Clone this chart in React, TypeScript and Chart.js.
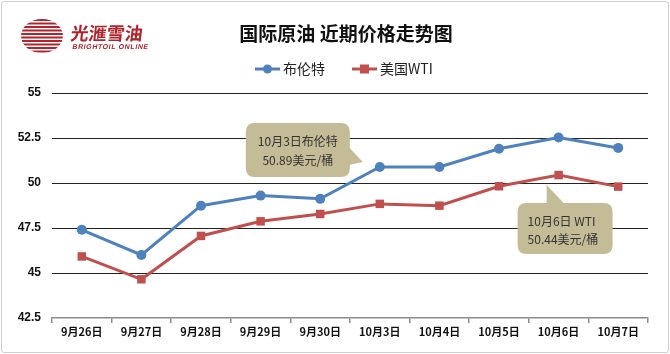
import React, { useEffect, useRef } from "react";
import { Chart, registerables } from "chart.js";
Chart.register(...registerables);

const categories = ["9月26日", "9月27日", "9月28日", "9月29日", "9月30日", "10月3日", "10月4日", "10月5日", "10月6日", "10月7日"];
const brent = [47.4, 46.0, 48.74, 49.3, 49.12, 50.89, 50.89, 51.9, 52.53, 51.95];
const wti = [45.92, 44.65, 47.06, 47.87, 48.28, 48.84, 48.74, 49.82, 50.44, 49.8];
const seriesNames = ["布伦特", "美国WTI"];
const yMin = 42.5;
const yMax = 55;
const yStep = 2.5;
const titleText = "国际原油 近期价格走势图";
const logoCn = "光滙雪油";
const logoEn = "BRIGHTOIL ONLINE";
const callouts = [
  { series: 0, index: 5, lines: ["10月3日布伦特", "50.89美元/桶"] },
  { series: 1, index: 8, lines: ["10月6日 WTI", "50.44美元/桶"] },
];

const BLUE = "#4F81BD";
const RED = "#C0504D";
const FONT = '"Noto Sans CJK SC", "Noto Sans", sans-serif';

function roundRect(ctx: CanvasRenderingContext2D, x: number, y: number, w: number, h: number, r: number) {
  ctx.beginPath();
  ctx.moveTo(x + r, y);
  ctx.lineTo(x + w - r, y);
  ctx.quadraticCurveTo(x + w, y, x + w, y + r);
  ctx.lineTo(x + w, y + h - r);
  ctx.quadraticCurveTo(x + w, y + h, x + w - r, y + h);
  ctx.lineTo(x + r, y + h);
  ctx.quadraticCurveTo(x, y + h, x, y + h - r);
  ctx.lineTo(x, y + r);
  ctx.quadraticCurveTo(x, y, x + r, y);
  ctx.closePath();
}

const decorPlugin = {
  id: "decor",
  afterDraw(chart: any) {
    const ctx: CanvasRenderingContext2D = chart.ctx;
    ctx.save();
    // Logo sphere
    const cx = 42, cy = 36, rx = 21, ry = 17;
    ctx.save();
    ctx.beginPath();
    ctx.ellipse(cx, cy, rx, ry, 0, 0, Math.PI * 2);
    ctx.clip();
    ctx.fillStyle = "#B0242C";
    for (let i = 0; i < 10; i++) {
      const y = cy - ry + i * 3.5;
      ctx.fillRect(cx - rx, y, rx * 2, 2);
    }
    ctx.restore();
    ctx.fillStyle = "#B0242C";
    ctx.save();
    ctx.translate(70, 40);
    ctx.transform(1, 0, -0.12, 1, 0, 0);
    ctx.font = "bold 18px " + FONT;
    ctx.textBaseline = "alphabetic";
    ctx.textAlign = "left";
    ctx.fillText(logoCn, 0, 0);
    ctx.restore();
    ctx.save();
    ctx.translate(72, 49);
    ctx.transform(1, 0, -0.2, 1, 0, 0);
    ctx.font = "bold 7px Arial, sans-serif";
    ctx.textAlign = "left";
    ctx.textBaseline = "alphabetic";
    (ctx as any).letterSpacing = "0.6px";
    ctx.fillText(logoEn, 0, 0);
    ctx.restore();

    // Title
    ctx.fillStyle = "#111";
    ctx.font = "bold 19px " + FONT;
    ctx.textAlign = "center";
    ctx.textBaseline = "middle";
    ctx.fillText(titleText, 346, 34);

    // Legend
    const items = [
      { x: 255, color: BLUE, label: seriesNames[0], style: "circle" },
      { x: 352, color: RED, label: seriesNames[1], style: "rect" },
    ];
    const ly = 69;
    for (const it of items) {
      ctx.strokeStyle = it.color;
      ctx.lineWidth = 3;
      ctx.beginPath();
      ctx.moveTo(it.x, ly);
      ctx.lineTo(it.x + 25, ly);
      ctx.stroke();
      ctx.fillStyle = it.color;
      if (it.style === "circle") {
        ctx.beginPath();
        ctx.arc(it.x + 12.5, ly, 4.5, 0, Math.PI * 2);
        ctx.fill();
      } else {
        ctx.fillRect(it.x + 8, ly - 4.5, 9, 9);
      }
      ctx.fillStyle = "#222";
      ctx.font = "14px " + FONT;
      ctx.textAlign = "left";
      ctx.fillText(it.label, it.x + 28, ly);
    }

    // Callouts
    const tan = "#C4BC96";
    callouts.forEach((c, k) => {
      const meta = chart.getDatasetMeta(c.series);
      const el = meta.data[c.index];
      const px = el.x, py = el.y;
      ctx.fillStyle = tan;
      if (k === 0) {
        const bx = px - 134, by = py - 44, bw = 104, bh = 54;
        roundRect(ctx, bx, by, bw, bh, 9);
        ctx.fill();
        ctx.beginPath();
        ctx.moveTo(bx + bw - 1, py - 20);
        ctx.lineTo(px - 17, py - 5);
        ctx.lineTo(bx + bw - 1, py - 2);
        ctx.closePath();
        ctx.fill();
        ctx.fillStyle = "#333";
        ctx.font = "12px " + FONT;
        ctx.textAlign = "center";
        ctx.textBaseline = "middle";
        ctx.fillText(c.lines[0], bx + bw / 2, by + 18);
        ctx.fillText(c.lines[1], bx + bw / 2, by + 37);
      } else {
        const bx = px - 41, by = py + 28, bw = 95, bh = 51;
        roundRect(ctx, bx, by, bw, bh, 9);
        ctx.fill();
        ctx.beginPath();
        ctx.moveTo(px - 12, py + 10);
        ctx.lineTo(px - 12, by + 1);
        ctx.lineTo(px + 6, by + 1);
        ctx.closePath();
        ctx.fill();
        ctx.fillStyle = "#333";
        ctx.font = "12px " + FONT;
        ctx.textAlign = "left";
        ctx.textBaseline = "middle";
        ctx.fillText(c.lines[0], bx + 10, by + 18);
        ctx.fillText(c.lines[1], bx + 10, by + 36);
      }
    });
    ctx.restore();
  },
};

export default function App() {
  const ref = useRef<HTMLCanvasElement>(null);
  useEffect(() => {
    document.body.style.margin = "0";
    const chart = new Chart(ref.current!, {
      type: "line",
      data: {
        labels: categories,
        datasets: [
          {
            label: seriesNames[0],
            data: brent,
            borderColor: BLUE,
            backgroundColor: BLUE,
            borderWidth: 3,
            pointStyle: "circle",
            pointRadius: 5,
            pointBorderWidth: 0,
            tension: 0,
          },
          {
            label: seriesNames[1],
            data: wti,
            borderColor: RED,
            backgroundColor: RED,
            borderWidth: 3,
            pointStyle: "rect",
            pointRadius: 6,
            pointBorderWidth: 0,
            tension: 0,
          },
        ],
      },
      options: {
        responsive: false,
        animation: false,
        layout: { padding: { top: 93, right: 22, bottom: 12, left: 0 } },
        plugins: { legend: { display: false }, tooltip: { enabled: false } },
        scales: {
          x: {
            offset: true,
            border: { display: true, color: "#8c8c8c", width: 1.5 },
            grid: { offset: true, drawOnChartArea: false, drawTicks: true, tickLength: 5, color: "#8c8c8c", lineWidth: 1.5 },
            ticks: {
              color: "#111",
              font: { family: FONT, size: 11, weight: "bold" },
              padding: 2,
              maxRotation: 0,
              autoSkip: false,
            },
            afterFit: (s: any) => { s.height = 24; },
          },
          y: {
            min: yMin,
            max: yMax,
            border: { display: false },
            grid: {
              drawTicks: false,
              color: (c: any) => (c.tick && c.tick.value === yMin ? "rgba(0,0,0,0)" : "#222"),
              lineWidth: 1,
            },
            ticks: {
              stepSize: yStep,
              color: "#111",
              font: { family: "Arial, sans-serif", size: 12, weight: "bold" },
              padding: 11,
            },
            afterFit: (s: any) => { s.width = 52; },
          },
        },
      },
      plugins: [decorPlugin],
    });
    return () => chart.destroy();
  }, []);
  return (
    <div style={{ position: "absolute", left: 0, top: 0, width: 670, height: 354, background: "#fff" }}>
      <canvas ref={ref} width={670} height={354} style={{ display: "block" }} />
      <div style={{ position: "absolute", left: 1, top: 1, width: 666, height: 350, border: "1px solid #d0d0d0", borderRadius: 3, pointerEvents: "none" }} />
    </div>
  );
}
